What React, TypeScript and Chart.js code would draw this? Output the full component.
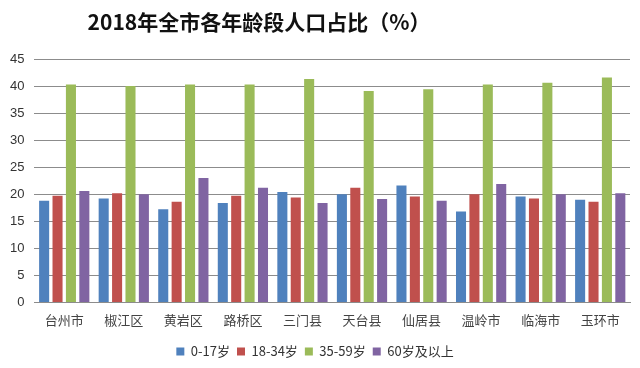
import React, { useEffect, useRef } from "react";
import { Chart, registerables } from "chart.js";

Chart.register(...registerables);

const titleText = "2018年全市各年龄段人口占比（%）";
const categories = ["台州市", "椒江区", "黄岩区", "路桥区", "三门县", "天台县", "仙居县", "温岭市", "临海市", "玉环市"];
const seriesNames = ["0-17岁", "18-34岁", "35-59岁", "60岁及以上"];
const age0to17 = [18.8, 19.2, 17.2, 18.4, 20.4, 20.0, 21.6, 16.8, 19.6, 19.0];
const age18to34 = [19.7, 20.2, 18.6, 19.7, 19.4, 21.2, 19.6, 20.0, 19.2, 18.6];
const age35to59 = [40.3, 40.0, 40.3, 40.3, 41.3, 39.1, 39.4, 40.3, 40.6, 41.6];
const age60plus = [20.6, 20.0, 23.0, 21.2, 18.4, 19.1, 18.8, 21.9, 20.0, 20.2];
const yTicksMax = 45;
const yTickStep = 5;

const colors = ["#4F81BD", "#C0504D", "#9BBB59", "#8064A2"];

export default function App() {
  const ref = useRef<HTMLCanvasElement | null>(null);
  useEffect(() => {
    document.body.style.margin = "0";
    const ctx = ref.current!;
    const titlePlugin = {
      id: "customTitle",
      afterDraw(chart: any) {
        const c = chart.ctx;
        c.save();
        c.font = "bold 21px 'Noto Sans CJK SC', 'Noto Sans', sans-serif";
        c.fillStyle = "#111111";
        c.textAlign = "center";
        c.textBaseline = "middle";
        c.fillText(titleText, 259, 22);
        c.restore();
      },
    };
    const values = [age0to17, age18to34, age35to59, age60plus];
    const chart = new Chart(ctx, {
      type: "bar",
      data: {
        labels: categories,
        datasets: seriesNames.map((name, i) => ({
          label: name,
          data: values[i],
          backgroundColor: colors[i],
          borderWidth: 0,
          categoryPercentage: 0.9,
          barPercentage: 0.75,
        })),
      },
      options: {
        animation: false,
        responsive: false,
        maintainAspectRatio: false,
        layout: { padding: { top: 59, right: 10, left: 0, bottom: 0 } },
        plugins: {
          title: { display: false },
          tooltip: { enabled: false },
          legend: {
            position: "bottom",
            labels: {
              boxWidth: 8,
              boxHeight: 8,
              padding: 7,
              color: "#333333",
              font: { size: 13, family: "'Noto Sans CJK SC', 'Liberation Sans', sans-serif" },
            },
          },
        },
        scales: {
          x: {
            grid: { display: false, drawTicks: false },
            border: { display: true, color: "#8c8c8c", width: 1 },
            ticks: {
              padding: 10,
              color: "#444444",
              font: { size: 13, family: "'Noto Sans CJK SC', sans-serif" },
            },
          },
          y: {
            min: 0,
            max: yTicksMax,
            grid: { color: "#8c8c8c", drawTicks: false },
            border: { display: false },
            ticks: {
              stepSize: yTickStep,
              padding: 10,
              color: "#333333",
              font: { size: 13, family: "'Liberation Sans', sans-serif" },
            },
          },
        },
      },
      plugins: [titlePlugin],
    });
    return () => chart.destroy();
  }, []);
  return (
    <div style={{ position: "relative", width: 640, height: 368 }}>
      <canvas ref={ref} width={640} height={368} style={{ display: "block", width: 640, height: 368 }} />
    </div>
  );
}
